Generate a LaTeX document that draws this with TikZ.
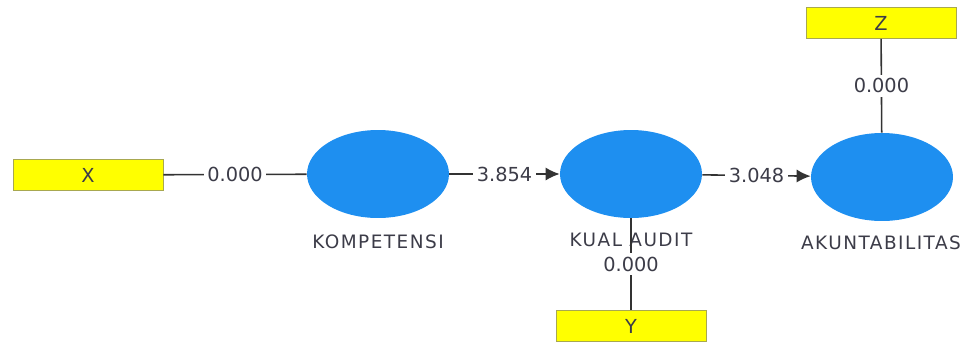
\documentclass[tikz,border=0pt]{standalone}
\usepackage{fontspec}
\setmainfont{DejaVu Sans}
\newfontfamily\namefont[LetterSpace=8]{DejaVu Sans}
\usetikzlibrary{arrows.meta,shapes.geometric}
\definecolor{latentblue}{HTML}{1E8FF0}
\definecolor{itemyellow}{HTML}{FFFF00}
\definecolor{itemborder}{HTML}{A8A850}
\definecolor{labelgray}{HTML}{3C3C48}
\begin{document}
\begin{tikzpicture}[x=0.02cm,y=-0.02cm,font=\fontsize{11}{12}\selectfont,text=labelgray]
	\useasboundingbox (0,0) rectangle (967,342);
	\begin{scope}[every node/.style={ellipse,fill=latentblue,minimum width=2.84cm,minimum height=1.76cm,inner sep=0pt}]
		\node (komp) at (378,174) {};
		\node (kual) at (631,174) {};
		\node (akun) at (882,177) {};
	\end{scope}
	
	\begin{scope}[every node/.style={rectangle,fill=itemyellow,draw=itemborder,minimum width=3.0cm,minimum height=0.62cm,inner sep=0pt}]
		\node (X) at (88,175) {X};
		\node (Y) at (631,326) {Y};
		\node (Z) at (881,23) {Z};
	\end{scope}
	
	\begin{scope}[every node/.style={font=\namefont\fontsize{10.5}{12}\selectfont}]
		\node (kompname) at (378,242) {KOMPETENSI};
		\node (kualname) at (631,240) {KUAL AUDIT};
		\node (akunname) at (881,243) {AKUNTABILITAS};
	\end{scope}
	
	\begin{scope}[every edge/.style={draw=black!80,line width=0.9pt},
		every node/.style={fill=white,inner sep=2pt}]
		\path (X) edge node {0.000} (komp);
		\path [-{Latex[length=8pt,width=7.5pt]}] (komp) edge node {3.854} (kual);
		\path [-{Latex[length=8pt,width=7.5pt]}] (kual) edge node {3.048} (akun);
		\path (Z) edge node {0.000} (akun);
		\path (kual) edge node {0.000} (Y);
	\end{scope}
\end{tikzpicture}
\end{document}
